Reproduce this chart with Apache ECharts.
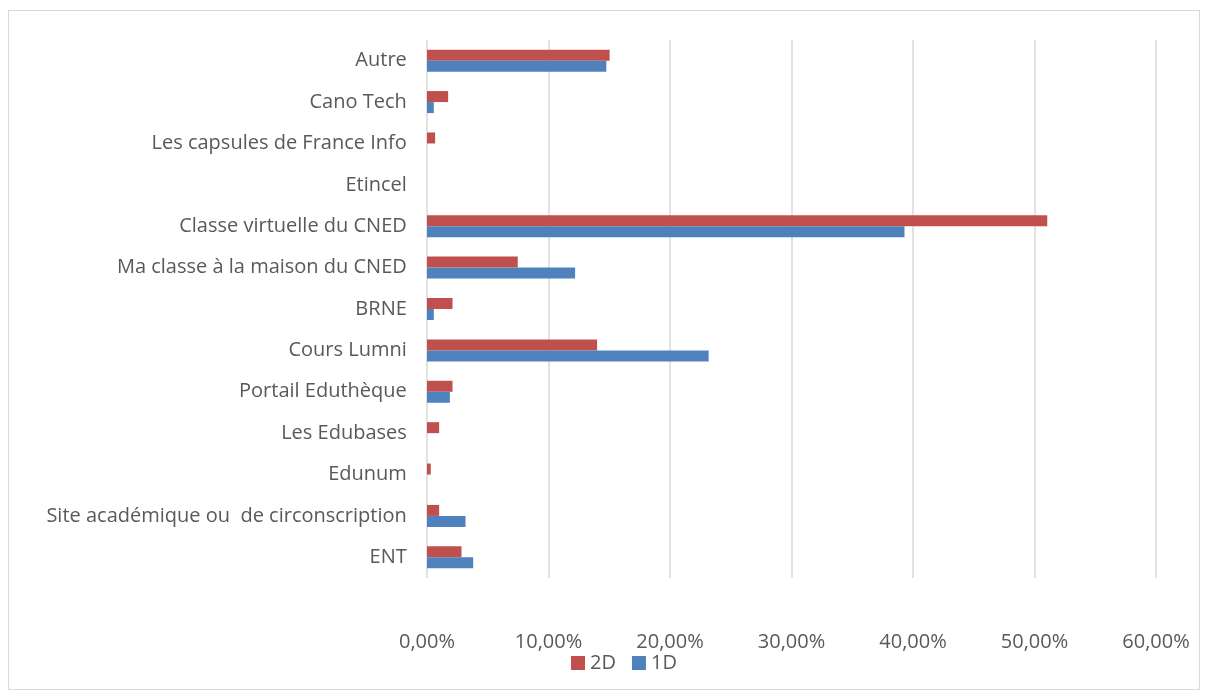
<!DOCTYPE html>
<html lang="fr">
<head>
    <meta charset="UTF-8">
    <title>Ressources utilisées</title>
    <script src="https://cdn.jsdelivr.net/npm/echarts@6/dist/echarts.min.js"></script>
    <style>
        body {
            margin: 0;
            background-color: #fff;
        }
        #chart-container {
            position: absolute;
            left: 8px;
            top: 10px;
            width: 1192px;
            height: 680px;
            border: 1px solid #d9d9d9;
            box-sizing: border-box;
        }
    </style>
</head>
<body>
    <div id="chart-container"></div>
    <script>
        // catégories, de bas en haut
        var categories = [
            'ENT ',
            'Site académique ou  de circonscription ',
            'Edunum ',
            'Les Edubases ',
            'Portail Eduthèque ',
            'Cours Lumni ',
            'BRNE ',
            'Ma classe à la maison du CNED ',
            'Classe virtuelle du CNED ',
            'Etincel ',
            'Les capsules de France Info ',
            'Cano Tech ',
            'Autre '
        ];
        var values2D = [2.84, 1.0, 0.31, 1.0, 2.1, 14.0, 2.1, 7.47, 51.05, 0, 0.67, 1.74, 15.03];
        var values1D = [3.8, 3.17, 0, 0, 1.88, 23.18, 0.56, 12.19, 39.3, 0, 0, 0.56, 14.76];

        var chart = echarts.init(document.getElementById('chart-container'));
        var font = "'Open Sans', 'Liberation Sans', sans-serif";

        var option = {
            animation: false,
            textStyle: { fontFamily: font },
            grid: {
                left: 418,
                right: 43,
                top: 29,
                bottom: 111
            },
            legend: {
                bottom: 11,
                left: 557,
                itemWidth: 14,
                itemHeight: 14,
                itemGap: 16,
                icon: 'rect',
                textStyle: { fontSize: 20, color: '#595959', fontFamily: font },
                data: ['2D', '1D']
            },
            xAxis: {
                type: 'value',
                min: 0,
                max: 60,
                interval: 10,
                axisLine: { show: false },
                axisTick: { show: false },
                axisLabel: {
                    fontSize: 20,
                    color: '#595959',
                    margin: 54,
                    formatter: function (v) { return v.toFixed(2).replace('.', ',') + '%'; }
                },
                splitLine: { lineStyle: { color: '#d9d9d9', width: 1.5 } }
            },
            yAxis: {
                type: 'category',
                data: categories,
                axisLine: { show: false },
                axisTick: { show: false },
                axisLabel: {
                    fontSize: 20,
                    color: '#595959',
                    margin: 15
                }
            },
            series: [
                {
                    name: '2D',
                    type: 'bar',
                    data: values2D,
                    barWidth: 11,
                    barGap: '0%',
                    itemStyle: { color: '#c0504d' }
                },
                {
                    name: '1D',
                    type: 'bar',
                    data: values1D,
                    barWidth: 11,
                    barGap: '0%',
                    itemStyle: { color: '#4f81bd' }
                }
            ]
        };

        chart.setOption(option);
    </script>
</body>
</html>
